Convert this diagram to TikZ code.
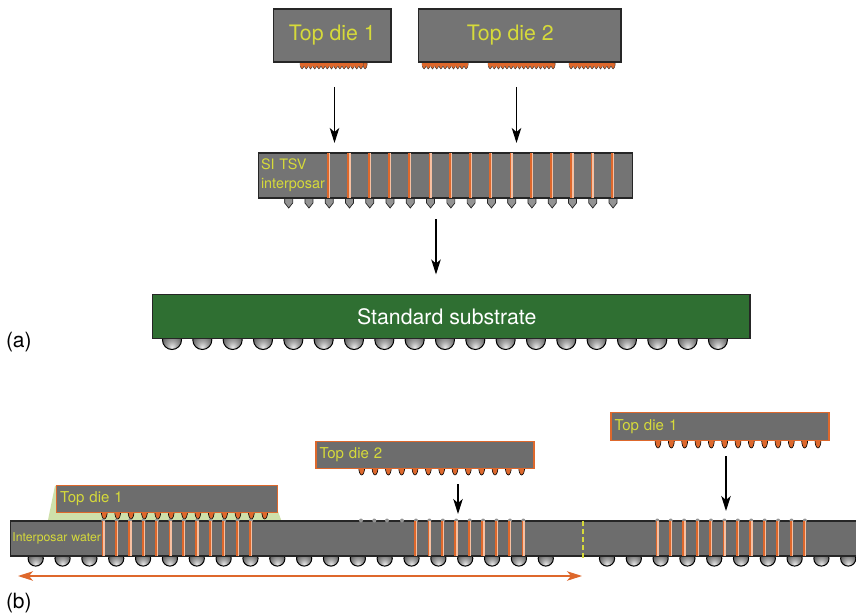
\documentclass[tikz,border=0pt]{standalone}
\usepackage{fontspec}
\setmainfont{TeX Gyre Heros}
\usepackage{xcolor}
\usepackage{tikz}
\usetikzlibrary{arrows.meta,positioning}
\definecolor{diegray}{RGB}{116,116,116}
\definecolor{waferline}{RGB}{38,38,38}
\definecolor{labelyellow}{RGB}{214,218,58}
\definecolor{copperorange}{RGB}{222,104,44}
\definecolor{copperpale}{RGB}{246,192,162}
\definecolor{substrategreen}{RGB}{47,111,50}
\definecolor{fillgreen}{RGB}{207,224,170}
\pgfdeclareradialshading{ballshade}{\pgfpoint{0bp}{-20bp}}{color(0bp)=(white!85!gray); color(12bp)=(white!30!gray); color(26bp)=(black!60); color(38bp)=(black!80); color(50bp)=(black!95)}

\begin{document}
\begin{tikzpicture}[x=1pt, y=-1pt, every node/.style={outer sep=0pt},
    diebox/.style={draw=waferline, line width=1.2pt, fill=diegray, text=labelyellow, align=center},
    flatdie/.style={draw=copperorange, line width=1.4pt, fill=diegray!105!white, text=labelyellow, align=left, minimum height=27pt, text width=211pt, font=\fontsize{15}{18}\selectfont},
    bigtext/.style={font=\fontsize{21.3}{24}\selectfont},
    caption/.style={font=\fontsize{21}{24}\selectfont},
    droparrow/.style={-{Stealth[length=15pt, width=9.5pt, inset=4pt]}, line width=1.1pt},
    ballbump/.style={draw=black, line width=1pt, shading=ballshade},
    solderbump/.style={draw=black, line width=0.6pt, fill=copperorange},
    finebump/.style={draw=black!80, line width=0.4pt, fill=copperorange},
    capnub/.style={fill=gray!85}]
    \useasboundingbox (0,0) rectangle (856,615);

    % balls under the substrate and under the wafer
    \foreach \i in {0,...,18}
        \shadedraw[ballbump] ({172+30.33*\i},340) circle[radius=9.5];
    \foreach \i in {0,...,19}
        \shadedraw[ballbump] ({35.7+26.845*\i},558.5) circle[radius=7.6];
    \foreach \i in {0,...,9}
        \shadedraw[ballbump] ({607+26.8*\i},558.5) circle[radius=7.6];

    % (a) fine pitch bumps
    \foreach \xa/\xb/\n in {300/363/15, 422/468/10, 488/552/15, 569/613/10} {
        \foreach \i in {0,...,\n}
            \draw[finebump] ({\xa+4.2*\i},63) arc[start angle=180, end angle=0, x radius=2.1, y radius=6] -- cycle;
        \fill[copperorange] (\xa,62) rectangle (\xb,66);
    }
    % (a) pointed bumps
    \foreach \i in {0,...,16}
        \shadedraw[draw=waferline, line width=0.7pt, left color=gray!85, middle color=gray!20, right color=gray!85]
            ({288.7+20.27*\i-4},198) -- ++(8,0) -- ++(0,5) -- ++(-4,5) -- ++(-4,-5) -- cycle;

    % (b) underfill and bumps
    \fill[fillgreen] (47.7,521.5) -- (55,485.7) -- (277.5,510) -- (281.7,521.5) -- cycle;
    \foreach \i in {0,...,12} {
        \draw[solderbump] ({104.3+13.37*\i-3},511) arc[start angle=180, end angle=0, x radius=3, y radius=8] -- cycle;
        \draw[solderbump] ({361.7+13.33*\i-3},467) arc[start angle=180, end angle=0, x radius=3, y radius=8] -- cycle;
        \draw[solderbump] ({658+13.33*\i-3},440) arc[start angle=180, end angle=0, x radius=3, y radius=8] -- cycle;
    }

    % (a) stack
    \node[diebox, bigtext, minimum width=117.5pt, minimum height=53pt] (dieone) at (332.25,35.5) {Top die 1};
    \node[diebox, bigtext, minimum width=202.5pt, minimum height=53pt, right=27.5pt of dieone] (dietwo) {\hspace*{-19pt}Top die 2};
    \node[diebox, minimum height=45pt, text width=369pt, inner sep=2.5pt, align=left, font=\fontsize{14.4}{19}\selectfont] (sitsv) at (445.5,175.5) {SI TSV\\interposar};
    \node[diebox, bigtext, fill=substrategreen, text=white, minimum width=597.5pt, minimum height=44pt] (substrate) at (451.25,316.5) {\hspace*{-9pt}Standard substrate};
    \node[caption, anchor=base west, inner sep=0pt] (labela) at (6,347) {(a)};

    % (b) wafer and dies
    \node[diebox, fill=diegray!105!white, minimum height=35pt, text width=846pt, inner sep=2pt, align=left, font=\fontsize{12.2}{15}\selectfont, anchor=west] (wafer) at (10.5,538.5) {Interposar water};
    \node[flatdie, inner xsep=3.5pt, text width=214pt] (flatone) at (167,499) {Top die 1};
    \node[flatdie] (flattwo) at (425,455) {Top die 2};
    \node[flatdie, minimum height=28pt] (flatthree) at (720,426.7) {Top die 1};
    \node[caption, anchor=base west, inner sep=0pt] (labelb) at (6,608) {(b)};

    % through vias
    \foreach \i in {0,...,14} {
        \fill[copperorange] ({329+20.26*\i-1.8},153) rectangle ({329+20.26*\i},197.5);
        \fill[copperpale] ({329+20.26*\i},153) rectangle ({329+20.26*\i+1.4},197.5);
    }
    \foreach \x/\n in {103.3/11, 416/8, 657.3/11}
        \foreach \i in {0,...,\n} {
            \fill[capnub] ({\x+13.42*\i},520.5) circle[radius=2];
            \fill[copperorange] ({\x+13.42*\i-1.8},521) rectangle ({\x+13.42*\i},555.5);
            \fill[copperpale] ({\x+13.42*\i},521) rectangle ({\x+13.42*\i+1.4},555.5);
        }
    \foreach \x in {361,374.3,387,402}
        \fill[capnub] (\x,520.5) circle[radius=2];
    \draw[labelyellow, line width=2.6pt, dash pattern=on 5pt off 3pt] (583,521) -- (583,558);

    % arrows
    \coordinate (dropone) at (334.5,87);
    \coordinate (droptwo) at (516.5,87);
    \coordinate (dropthree) at (436,219);
    \coordinate (dropfour) at (458,484);
    \coordinate (dropfive) at (726,456);
    \coordinate (spanleft) at (18,576);
    \coordinate (spanright) at (582,576);
    \draw[droparrow, shorten >=10pt] (dropone) -- (dropone |- sitsv.north);
    \draw[droparrow, shorten >=10pt] (droptwo) -- (droptwo |- sitsv.north);
    \draw[droparrow, shorten >=20pt] (dropthree) -- (dropthree |- substrate.north);
    \draw[droparrow, shorten >=7pt] (dropfour) -- (dropfour |- wafer.north);
    \draw[droparrow, shorten >=10pt] (dropfive) -- (dropfive |- wafer.north);
    \draw[{Stealth[length=15pt, width=9.5pt, inset=4pt]}-{Stealth[length=15pt, width=9.5pt, inset=4pt]}, draw=copperorange, fill=copperorange, line width=1.1pt] (spanleft) -- (spanright);
\end{tikzpicture}
\end{document}
